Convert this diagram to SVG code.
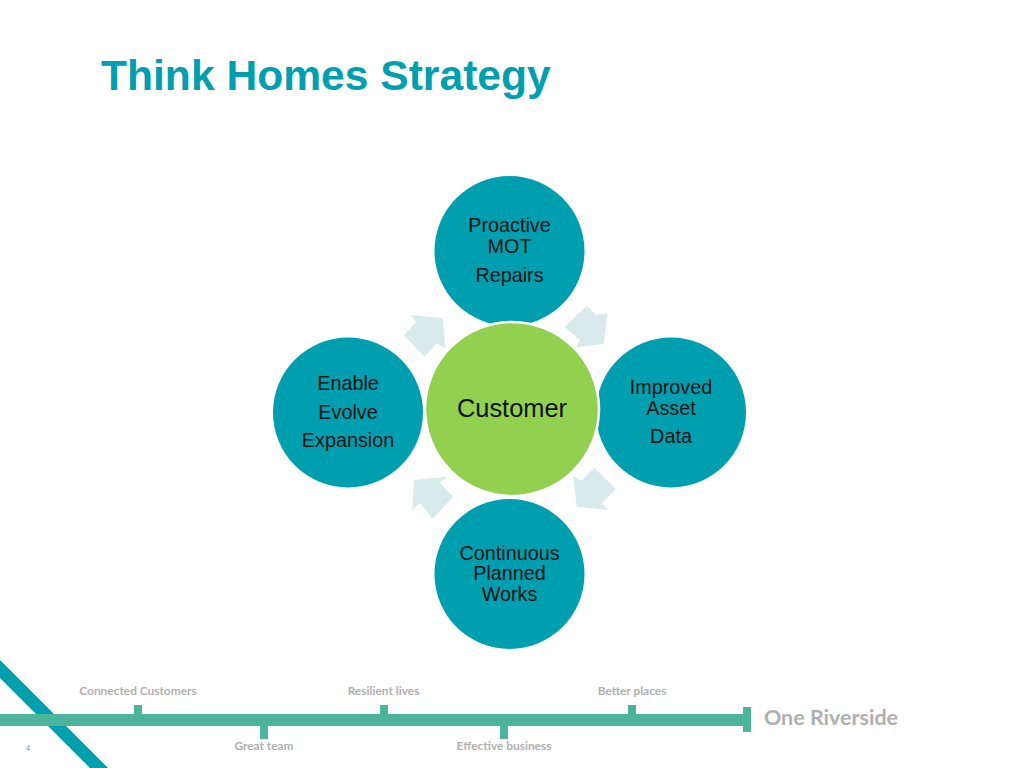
<svg xmlns="http://www.w3.org/2000/svg" width="1024" height="768" viewBox="0 0 1024 768">
<style>
.t{font-family:"Liberation Sans",Arial,sans-serif;fill:#111;text-anchor:middle;font-size:19.8px}
.f{font-family:Lato,"Open Sans",sans-serif;font-weight:700;fill:#b0b0b0;text-anchor:middle;font-size:11.9px}
.n{fill:#009fb0}
.a{fill:#d9eaed}
.b{fill:#4cb49b}
</style>
<rect width="1024" height="768" fill="#fff"/>
<text x="101" y="90" font-family="'Liberation Sans',Arial,sans-serif" font-weight="700" font-size="42.6px" fill="#009fb0">Think Homes Strategy</text>
<g id="connectors">
<polygon class="a" points="564.3,326.7 586.7,306 596,315 607.3,313.3 604,344 576,347.3 580,340"/>
<polygon class="a" points="573.3,476 576.7,506.7 608,510 601.7,503.3 615.7,489 594.3,467.7 581.3,480.7"/>
<polygon class="a" points="446.7,476.7 414.3,480 412.3,510 420,503.3 432.7,518.7 453.3,496.7 440,483.3"/>
<polygon class="a" points="404,335 416,322.3 410.7,315 442.7,318.3 445.3,348.3 436.7,343.3 424.3,356.7"/>
</g>
<g id="node-top"><circle class="n" cx="509.5" cy="251" r="75"/>
<text class="t" x="509.5" y="232">Proactive</text><text class="t" x="509.5" y="253">MOT</text><text class="t" x="509.5" y="282">Repairs</text></g>
<g id="node-right"><circle class="n" cx="671" cy="412.5" r="75"/>
<text class="t" x="671" y="394">Improved</text><text class="t" x="671" y="415">Asset</text><text class="t" x="671" y="443">Data</text></g>
<g id="node-bottom"><circle class="n" cx="509.5" cy="574" r="75"/>
<text class="t" x="509.5" y="560">Continuous</text><text class="t" x="509.5" y="580">Planned</text><text class="t" x="509.5" y="601">Works</text></g>
<g id="node-left"><circle class="n" cx="348" cy="412.5" r="75"/>
<text class="t" x="348" y="390">Enable</text><text class="t" x="348" y="419">Evolve</text><text class="t" x="348" y="447">Expansion</text></g>
<g id="node-center"><circle cx="512" cy="409" r="87" fill="#92d050" stroke="#fff" stroke-width="2.5"/>
<text class="t" x="512" y="417" style="font-size:25.4px">Customer</text></g>
<g id="footer">
<polygon class="n" points="0,660 108,768 90,768 0,678"/>
<rect class="b" x="0" y="714" width="746" height="12"/>
<rect class="b" x="134" y="705" width="8" height="9"/>
<rect class="b" x="260" y="726" width="8" height="13"/>
<rect class="b" x="380" y="705" width="8" height="9"/>
<rect class="b" x="500" y="726" width="8" height="13"/>
<rect class="b" x="628" y="705" width="8" height="9"/>
<rect class="b" x="743" y="707" width="8" height="25"/>
<text class="f" x="138" y="695">Connected Customers</text>
<text class="f" x="383.500" y="695">Resilient lives</text>
<text class="f" x="632" y="695">Better places</text>
<text class="f" x="264" y="750">Great team</text>
<text class="f" x="504" y="750">Effective business</text>
<text class="f" x="831" y="725" style="font-size:21.500px">One Riverside</text>
<text x="28" y="751" font-family="Lato,sans-serif" font-size="7px" fill="#3aa6d0" text-anchor="middle">4</text>
</g>
</svg>
